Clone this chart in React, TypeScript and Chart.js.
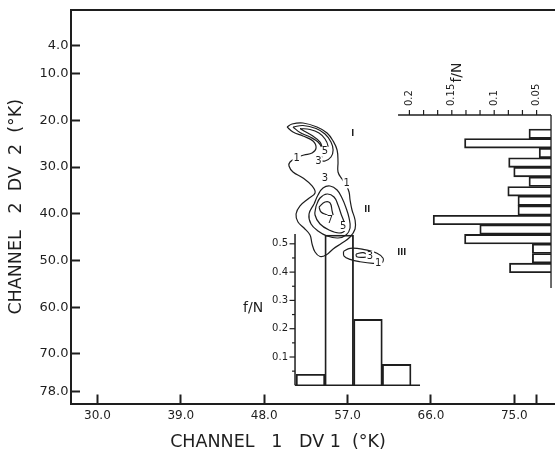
import React, { useEffect, useRef } from 'react';
import { Chart, registerables } from 'chart.js';

Chart.register(...registerables);

const FONT = '"DejaVu Sans", "Liberation Sans", sans-serif';
const INK = '#1e1e1e';

// ---------- main axes (°K) ----------
const channel1Ticks = [30, 39, 48, 57, 66, 75, 77.4];
const channel1TickLabels = ['30.0', '39.0', '48.0', '57.0', '66.0', '75.0', ''];
const channel2Ticks = [4, 10, 20, 30, 40, 50, 60, 70, 78];
const channel2TickLabels = ['4.0', '10.0', '20.0', '30.0', '40.0', '50.0', '60.0', '70.0', '78.0'];
const xTitle = 'CHANNEL   1   DV 1  (°K)';
const yTitle = 'CHANNEL   2  DV  2  (°K)';

// ---------- joint frequency contours: [channel 1 °K, channel 2 °K] ----------
const contourLevel1_I_II: [number, number][] = [
  [50.47, 21.43], [51.01, 20.79], [52.19, 20.57], [53.70, 21.43], [54.79, 22.71], [55.44, 24.42],
  [55.87, 26.35], [55.97, 28.92], [55.97, 31.06], [56.40, 32.56], [56.84, 33.84], [57.16, 35.34],
  [57.27, 37.05], [57.48, 39.19], [57.81, 41.33], [57.81, 43.26], [57.27, 44.97], [56.40, 46.25],
  [55.44, 47.53], [54.68, 48.82], [54.03, 49.14], [53.49, 48.18], [53.17, 46.46], [52.95, 44.54],
  [52.30, 43.04], [51.65, 41.76], [51.44, 40.05], [51.87, 38.33], [52.73, 36.83], [53.49, 35.55],
  [53.17, 34.05], [52.19, 32.34], [51.11, 31.06], [50.68, 29.77], [50.79, 28.92], [51.44, 28.06],
  [52.30, 27.42], [53.17, 26.99], [53.60, 25.92], [53.27, 24.42], [52.19, 23.35], [51.11, 22.50],
  [50.47, 21.43],
];
const contourLevel3_I: [number, number][] = [
  [51.11, 21.43], [52.19, 21.11], [53.60, 21.75], [54.57, 22.93], [55.21, 24.64], [55.44, 26.35],
  [55.21, 27.85], [54.57, 28.70], [54.14, 28.49], [54.35, 27.21], [54.24, 25.92], [53.81, 24.64],
  [52.95, 23.57], [51.87, 22.61], [51.11, 21.43],
];
const contourLevel5_I: [number, number][] = [
  [51.87, 21.75], [52.95, 21.96], [53.92, 22.71], [54.57, 23.99], [54.89, 25.49], [54.79, 26.78],
  [54.35, 26.14], [54.03, 24.64], [53.17, 23.25], [52.30, 22.28], [51.87, 21.75],
];
const contourLevel3_II: [number, number][] = [
  [53.38, 37.91], [53.81, 35.98], [54.35, 34.48], [55.11, 34.05], [55.87, 34.91], [56.40, 36.62],
  [56.84, 38.76], [57.16, 40.90], [57.27, 43.04], [56.84, 44.54], [55.97, 45.18], [54.79, 44.75],
  [53.81, 43.68], [53.06, 42.19], [52.84, 40.05], [53.38, 37.91],
];
const contourLevel5_II: [number, number][] = [
  [53.60, 38.33], [54.03, 36.62], [54.79, 35.77], [55.54, 36.41], [55.97, 38.12], [56.30, 40.05],
  [56.62, 41.76], [56.73, 43.47], [56.08, 44.11], [55.00, 43.47], [54.03, 42.19], [53.49, 40.26],
  [53.60, 38.33],
];
const contourLevel7_II: [number, number][] = [
  [53.92, 38.55], [54.57, 37.48], [55.11, 37.69], [55.33, 39.40], [55.44, 40.90], [54.79, 40.26],
  [54.14, 39.62], [53.92, 38.55],
];
const contourLevel1_III: [number, number][] = [
  [56.56, 48.07], [57.27, 47.39], [58.67, 47.61], [60.18, 48.46], [60.83, 49.53], [60.69, 50.47],
  [59.75, 50.60], [58.34, 50.26], [57.27, 49.75], [56.62, 49.04], [56.56, 48.07],
];
const contourLevel3_III: [number, number][] = [
  [57.91, 48.61], [58.70, 48.33], [59.21, 49.04], [58.70, 49.32], [57.99, 49.19], [57.91, 48.61],
];
const contourLabels = [
  { text: '1', x: 51.51, y: 28.13 },
  { text: '5', x: 54.57, y: 26.71 },
  { text: '3', x: 53.85, y: 28.85 },
  { text: '1', x: 56.91, y: 33.48 },
  { text: '3', x: 54.57, y: 32.41 },
  { text: '7', x: 55.11, y: 41.33 },
  { text: '5', x: 56.54, y: 42.61 },
  { text: '3', x: 59.42, y: 49.04 },
  { text: '1', x: 60.31, y: 50.6 },
];
const regionLabels = [
  { text: 'I', x: 57.56, y: 22.99 },
  { text: 'II', x: 59.13, y: 39.19 },
  { text: 'III', x: 62.85, y: 48.46 },
];

// ---------- channel 1 histogram (lower inset) ----------
const channel1BinCenters = [53.0, 56.1, 59.2, 62.3];
const channel1Freq = [0.039, 0.531, 0.233, 0.074];
const insetMajorTicks = [0.1, 0.2, 0.3, 0.4, 0.5];
const insetTickLabels = ['0.1', '0.2', '0.3', '0.4', '0.5'];
const insetMinorTicks = [0.05, 0.15, 0.25, 0.35, 0.45];

// ---------- channel 2 histogram (right) ----------
const channel2BinCenters = [22.88, 24.93, 26.98, 29.03, 31.08, 33.13, 35.18, 37.23, 39.28, 41.33, 43.38, 45.43, 47.48, 49.53, 51.58];
const channel2Freq = [0.059, 0.135, 0.047, 0.083, 0.077, 0.059, 0.084, 0.072, 0.072, 0.172, 0.117, 0.135, 0.055, 0.055, 0.082];
const rightMajorTicks = [0.05, 0.1, 0.15, 0.2];
const rightTickLabels = ['0.05', '0.1', '0.15', '0.2'];
const rightMinorTicks = [0.0667, 0.0833, 0.1167, 0.1333, 0.1667, 0.1833];

// ---------- layout (scale ranges & anchors, in data units) ----------
const X_RANGE = { min: 27.15, max: 79.39 };
const Y_RANGE = { min: -3.61, max: 80.6 };
const INSET_F_RANGE = { min: -0.0643, max: 1.3262 };
const RIGHT_F_RANGE = { min: 0.0283, max: 0.5991 };
const INSET = { axisAt: 51.33, baseEnd: 64.82, top: 0.535, titleX: 46.8, titleF: 0.273 };
const RIGHT = { base: 0.033, axisAt: 18.86, axisEnd: 0.2134, baseEnd: 55.9, titleF: 0.1433, titleY: 9.77 };
const X_TITLE_AT = 49.49;

const decor = {
  id: 'decor',
  afterDatasetsDraw(chart: any) {
    const { ctx, chartArea } = chart;
    const sx = chart.scales.x;
    const sy = chart.scales.y;
    const yI = chart.scales.yI;
    const xR = chart.scales.xR;
    const seg = (x1: number, y1: number, x2: number, y2: number, w: number) => {
      ctx.lineWidth = w;
      ctx.beginPath();
      ctx.moveTo(x1, y1);
      ctx.lineTo(x2, y2);
      ctx.stroke();
    };
    ctx.save();
    ctx.strokeStyle = INK;
    ctx.fillStyle = INK;
    ctx.lineCap = 'butt';

    // inset (channel 1) axes
    const ax = sx.getPixelForValue(INSET.axisAt);
    const by = yI.getPixelForValue(0);
    seg(ax, by, ax, yI.getPixelForValue(INSET.top), 1.5);
    seg(ax, by, sx.getPixelForValue(INSET.baseEnd), by, 1.5);
    insetMinorTicks.forEach((v) => {
      const p = yI.getPixelForValue(v);
      seg(ax - 3, p, ax, p, 1.2);
    });
    ctx.font = `10px ${FONT}`;
    ctx.textAlign = 'right';
    ctx.textBaseline = 'middle';
    insetMajorTicks.forEach((v, i) => {
      const p = yI.getPixelForValue(v);
      seg(ax - 5.5, p, ax, p, 1.2);
      ctx.fillText(insetTickLabels[i], ax - 7, p);
    });
    ctx.font = `14px ${FONT}`;
    ctx.textAlign = 'center';
    ctx.fillText('f/N', sx.getPixelForValue(INSET.titleX), yI.getPixelForValue(INSET.titleF));

    // right (channel 2) histogram axes
    const ry = sy.getPixelForValue(RIGHT.axisAt);
    const bx = xR.getPixelForValue(RIGHT.base);
    seg(xR.getPixelForValue(RIGHT.axisEnd), ry, bx, ry, 1.3);
    seg(bx, ry, bx, sy.getPixelForValue(RIGHT.baseEnd), 1.3);
    [...rightMinorTicks, ...rightMajorTicks].forEach((v) => {
      const p = xR.getPixelForValue(v);
      seg(p, ry, p, ry - 5, 1.2);
    });
    ctx.font = `10px ${FONT}`;
    ctx.textAlign = 'left';
    ctx.textBaseline = 'middle';
    rightMajorTicks.forEach((v, i) => {
      const p = xR.getPixelForValue(v);
      ctx.save();
      ctx.translate(p, ry - 9);
      ctx.rotate(-Math.PI / 2);
      ctx.fillText(rightTickLabels[i], 0, 0);
      ctx.restore();
    });
    ctx.save();
    ctx.translate(xR.getPixelForValue(RIGHT.titleF), sy.getPixelForValue(RIGHT.titleY));
    ctx.rotate(-Math.PI / 2);
    ctx.font = `14px ${FONT}`;
    ctx.textAlign = 'center';
    ctx.fillText('f/N', 0, 0);
    ctx.restore();

    // contour labels (with a small break in the line)
    ctx.font = `10px ${FONT}`;
    ctx.textAlign = 'center';
    ctx.textBaseline = 'middle';
    contourLabels.forEach((l) => {
      const px = sx.getPixelForValue(l.x);
      const py = sy.getPixelForValue(l.y);
      const w = ctx.measureText(l.text).width;
      ctx.fillStyle = '#ffffff';
      ctx.fillRect(px - w / 2 - 1, py - 5, w + 2, 10);
      ctx.fillStyle = INK;
      ctx.fillText(l.text, px, py);
    });
    ctx.font = `bold 8px ${FONT}`;
    regionLabels.forEach((l) => {
      ctx.fillText(l.text, sx.getPixelForValue(l.x), sy.getPixelForValue(l.y));
    });

    // x axis title
    ctx.font = `17.5px ${FONT}`;
    ctx.textAlign = 'center';
    ctx.textBaseline = 'alphabetic';
    ctx.fillText(xTitle, sx.getPixelForValue(X_TITLE_AT), chartArea.bottom + 43.2);
    ctx.restore();
  },
};

const contourDs = (label: string, pts: [number, number][]) => ({
  type: 'line' as const,
  label,
  data: pts.map(([x, y]) => ({ x, y })),
  xAxisID: 'x',
  yAxisID: 'y',
  borderColor: INK,
  borderWidth: 1.2,
  pointRadius: 0,
  pointHoverRadius: 0,
  tension: 0.4,
  fill: false,
});

export default function App() {
  const ref = useRef<HTMLCanvasElement>(null);
  useEffect(() => {
    const datasets: any[] = [
      {
        type: 'bar',
        label: 'Channel 1 f/N',
        data: channel1BinCenters.map((x, i) => ({ x, y: channel1Freq[i] })),
        xAxisID: 'xI',
        yAxisID: 'yI',
        grouped: false,
        backgroundColor: 'rgba(0,0,0,0)',
        borderColor: INK,
        borderWidth: 1.2,
        barPercentage: 1,
        categoryPercentage: 1,
        borderSkipped: 'start',
      },
      {
        type: 'bar',
        label: 'Channel 2 f/N',
        indexAxis: 'y',
        data: channel2BinCenters.map((y, i) => ({ x: channel2Freq[i], y })),
        xAxisID: 'xR',
        yAxisID: 'y',
        grouped: false,
        base: RIGHT.base,
        backgroundColor: 'rgba(0,0,0,0)',
        borderColor: INK,
        borderWidth: 1.2,
        barPercentage: 1,
        categoryPercentage: 1,
        borderSkipped: 'start',
      },
      contourDs('I level 1 / II level 1', contourLevel1_I_II),
      contourDs('I level 3', contourLevel3_I),
      contourDs('I level 5', contourLevel5_I),
      contourDs('II level 3', contourLevel3_II),
      contourDs('II level 5', contourLevel5_II),
      contourDs('II level 7', contourLevel7_II),
      contourDs('III level 1', contourLevel1_III),
      contourDs('III level 3', contourLevel3_III),
    ];
    const chart = new Chart(ref.current as HTMLCanvasElement, {
      type: 'line',
      data: { datasets },
      plugins: [decor],
      options: {
        responsive: false,
        devicePixelRatio: 1,
        animation: false,
        events: [],
        layout: { padding: { top: 10, left: 0, right: 0, bottom: 0 } },
        plugins: { legend: { display: false }, tooltip: { enabled: false }, title: { display: false } },
        scales: {
          x: {
            type: 'linear',
            axis: 'x',
            position: 'bottom',
            min: X_RANGE.min,
            max: X_RANGE.max,
            bounds: 'data',
            offset: false,
            afterBuildTicks: (s: any) => {
              s.ticks = channel1Ticks.map((value) => ({ value }));
            },
            afterFit: (s: any) => {
              s.height = 50.5;
              s.paddingLeft = 0;
              s.paddingRight = 0;
            },
            ticks: {
              autoSkip: false,
              maxRotation: 0,
              minRotation: 0,
              padding: 14,
              color: INK,
              font: { family: FONT, size: 12 },
              callback: (v: any) => {
                const i = channel1Ticks.indexOf(Number(v));
                return i >= 0 ? channel1TickLabels[i] : '';
              },
            },
            grid: { display: true, drawOnChartArea: false, drawTicks: true, tickLength: -9, tickWidth: 2, tickColor: INK, offset: false },
            border: { display: true, width: 2, color: INK },
          },
          y: {
            type: 'linear',
            axis: 'y',
            position: 'left',
            reverse: true,
            min: Y_RANGE.min,
            max: Y_RANGE.max,
            bounds: 'data',
            offset: false,
            afterBuildTicks: (s: any) => {
              s.ticks = channel2Ticks.map((value) => ({ value }));
            },
            afterFit: (s: any) => {
              s.width = 71;
              s.paddingTop = 0;
              s.paddingBottom = 0;
            },
            ticks: {
              autoSkip: false,
              padding: 11.5,
              color: INK,
              font: { family: FONT, size: 13 },
              callback: (v: any) => {
                const i = channel2Ticks.indexOf(Number(v));
                return i >= 0 ? channel2TickLabels[i] : '';
              },
            },
            grid: { display: true, drawOnChartArea: false, drawTicks: true, tickLength: -9, tickWidth: 2, tickColor: INK, offset: false },
            border: { display: true, width: 2, color: INK },
            title: {
              display: true,
              text: yTitle,
              color: INK,
              font: { family: FONT, size: 17.5 },
              padding: { top: 6, bottom: 0 },
            },
          },
          xTop: {
            type: 'linear',
            axis: 'x',
            position: 'top',
            min: 0,
            max: 1,
            ticks: { display: false },
            grid: { display: true, drawOnChartArea: false, drawTicks: false },
            border: { display: true, width: 2, color: INK },
            afterFit: (s: any) => {
              s.height = 0;
              s.paddingLeft = 0;
              s.paddingRight = 0;
            },
          },
          xI: {
            type: 'linear',
            axis: 'x',
            display: false,
            min: X_RANGE.min,
            max: X_RANGE.max,
            bounds: 'data',
            offset: false,
            grid: { offset: false },
            afterBuildTicks: (s: any) => {
              s.ticks = [];
            },
          },
          yI: {
            type: 'linear',
            axis: 'y',
            display: false,
            min: INSET_F_RANGE.min,
            max: INSET_F_RANGE.max,
            bounds: 'data',
            beginAtZero: false,
          },
          xR: {
            type: 'linear',
            axis: 'x',
            display: false,
            reverse: true,
            min: RIGHT_F_RANGE.min,
            max: RIGHT_F_RANGE.max,
            bounds: 'data',
            beginAtZero: false,
          },
        } as any,
      },
    } as any);
    return () => chart.destroy();
  }, []);
  return (
    <div style={{ position: 'absolute', left: 0, top: 0, width: 555, height: 454, background: '#ffffff' }}>
      <canvas ref={ref} width={555} height={454} style={{ display: 'block' }} />
    </div>
  );
}
